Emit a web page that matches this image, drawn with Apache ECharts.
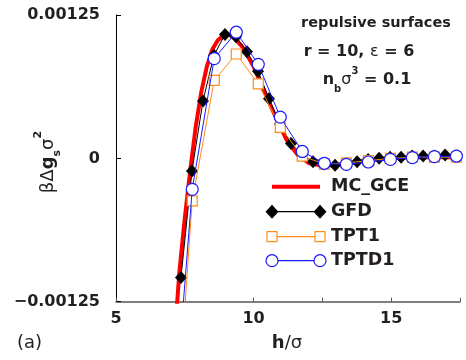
<!DOCTYPE html>
<html><head><meta charset="utf-8">
<script src="https://cdn.jsdelivr.net/npm/echarts@6/dist/echarts.min.js"></script>
<style>html,body{margin:0;padding:0;background:#fff}#c{width:466px;height:360px}</style>
</head><body><div id="c"></div>
<script>
// ---- data ----
const xGFD = [7.36, 7.76, 8.16, 8.56, 8.96, 9.36, 9.76, 10.16, 10.56, 10.96, 11.36, 11.76, 12.16, 12.56, 12.96, 13.36, 13.76, 14.16, 14.56, 14.96, 15.36, 15.76, 16.16, 16.56, 16.96, 17.36];
const yGFD = [-0.00104, -0.00011, 0.00050, 0.00090, 0.00108, 0.00106, 0.00093, 0.00076, 0.00052, 0.00030, 0.00013, 0.00003, -0.00003, -0.00005, -0.00006, -0.00005, -0.00003, -0.00001, 0.0, 0.00001, 0.00001, 0.00002, 0.00002, 0.00002, 0.00003, 0.00002];
const xTPT = [6.97, 7.77, 8.57, 9.37, 10.17, 10.97, 11.77, 12.57, 13.37, 14.17, 14.97, 15.77, 16.57, 17.37];
const yTPT1 = [-0.00313, -0.00037, 0.00068, 0.00091, 0.00065, 0.00027, 0.00002, -0.00005, -0.00004, -0.00002, 0.0, 0.00001, 0.00001, 0.00001];
const yTPTD1 = [-0.00272, -0.00027, 0.00087, 0.00110, 0.00082, 0.00036, 0.00006, -0.000043, -0.000052, -0.000032, -0.000009, 0.000006, 0.000015, 0.00002];
const xMC = [7.15, 7.3, 7.5, 7.7, 7.9, 8.1, 8.3, 8.5, 8.7, 8.9, 9.1, 9.3, 9.6, 10.0, 10.4, 10.8, 11.2, 11.6, 12.0, 12.4, 12.8, 13.2, 13.6, 14.0, 14.5, 15.0, 16.0, 17.4];
const yMC = [-0.00150, -0.00100, -0.00052, -0.00010, 0.00028, 0.00058, 0.00080, 0.00095, 0.00103, 0.00107, 0.00108, 0.00105, 0.00097, 0.00080, 0.00058, 0.00036, 0.00016, 0.00003, -0.00004, -0.00006, -0.00006, -0.00005, -0.00004, -0.00002, -0.00001, 0.0, 0.00001, 0.00001];
const yTickLabels = ['\u22120.00125', '0', '0.00125'];
const xTickLabels = {5: '5', 10: '10', 15: '15'};
const legendNames = ['MC_GCE', 'GFD', 'TPT1', 'TPTD1'];

const pairs = (xs, ys) => xs.map((x, i) => [x, ys[i]]);
const FONT = 'DejaVu Sans';
const TXT = '#231f20';
const RED = '#ff0000', ORANGE = '#ff8c1a', BLUE = '#1a1aff', BLACK = '#000000';

const chart = echarts.init(document.getElementById('c'), null, {renderer: 'canvas'});

// legend graphics
const legendRows = [186.7, 211.7, 236.7, 260.7];
const lx0 = 272, lx1 = 320, ltx = 331;
const g = [];
function diamond(cx, cy, w, h) {
  return {type: 'polygon', shape: {points: [[cx, cy - h / 2], [cx + w / 2, cy], [cx, cy + h / 2], [cx - w / 2, cy]]}, style: {fill: BLACK}, z: 100};
}
g.push({type: 'line', shape: {x1: lx0, y1: legendRows[0], x2: lx1, y2: legendRows[0]}, style: {stroke: RED, lineWidth: 4}, z: 100});
g.push({type: 'line', shape: {x1: lx0, y1: legendRows[1], x2: lx1, y2: legendRows[1]}, style: {stroke: BLACK, lineWidth: 1.2}, z: 100});
g.push(diamond(lx0, legendRows[1], 13, 14));
g.push(diamond(lx1, legendRows[1], 13, 14));
g.push({type: 'line', shape: {x1: lx0, y1: legendRows[2], x2: lx1, y2: legendRows[2]}, style: {stroke: ORANGE, lineWidth: 1.2}, z: 100});
[lx0, lx1].forEach(x => g.push({type: 'rect', shape: {x: x - 5, y: legendRows[2] - 5, width: 10, height: 10}, style: {fill: '#fff', stroke: ORANGE, lineWidth: 1.2}, z: 101}));
g.push({type: 'line', shape: {x1: lx0, y1: legendRows[3], x2: lx1, y2: legendRows[3]}, style: {stroke: BLUE, lineWidth: 1.2}, z: 100});
[lx0, lx1].forEach(x => g.push({type: 'circle', shape: {cx: x, cy: legendRows[3], r: 6}, style: {fill: '#fff', stroke: BLUE, lineWidth: 1.2}, z: 101}));
legendNames.forEach((n, i) => g.push({type: 'text', x: ltx, y: legendRows[i], style: {text: n, font: 'bold 17.5px "' + FONT + '"', fill: TXT, verticalAlign: 'middle', align: 'left'}, z: 100}));

// annotations
g.push({type: 'text', x: 376, y: 23, style: {text: 'repulsive surfaces', font: 'bold 14.5px "' + FONT + '"', fill: TXT, align: 'center', verticalAlign: 'middle'}, z: 100});
g.push({type: 'text', x: 359, y: 52, style: {text: '{b|r = 10, }{n|\u03b5}{b| = 6}', align: 'center', verticalAlign: 'middle',
  rich: {b: {font: 'bold 16px "' + FONT + '"', fill: TXT}, n: {font: '16px "' + FONT + '"', fill: TXT}}}, z: 100});
g.push({type: 'text', x: 367, y: 80, style: {text: '{b|n}{s|b}{n|\u03c3}{p|3}{b| = 0.1}', align: 'center', verticalAlign: 'middle',
  rich: {b: {font: 'bold 16px "' + FONT + '"', fill: TXT, lineHeight: 28, verticalAlign: 'middle'},
         s: {font: 'bold 10px "' + FONT + '"', fill: TXT, lineHeight: 10, verticalAlign: 'bottom'},
         n: {font: '16px "' + FONT + '"', fill: TXT, lineHeight: 28, verticalAlign: 'middle'},
         p: {font: 'bold 10px "' + FONT + '"', fill: TXT, lineHeight: 10, verticalAlign: 'top'}}}, z: 100});
// y axis name
g.push({type: 'text', x: 48, y: 162, rotation: Math.PI / 2, style: {text: '{n|\u03b2\u0394}{b|g}{s|s}{n|\u03c3}{p|2}', align: 'center', verticalAlign: 'middle',
  rich: {n: {font: '18px "' + FONT + '"', fill: TXT, lineHeight: 30, verticalAlign: 'middle'},
         b: {font: 'bold 18px "' + FONT + '"', fill: TXT, lineHeight: 30, verticalAlign: 'middle'},
         s: {font: 'bold 11px "' + FONT + '"', fill: TXT, lineHeight: 11, verticalAlign: 'bottom'},
         p: {font: 'bold 11px "' + FONT + '"', fill: TXT, lineHeight: 11, verticalAlign: 'top'}}}, z: 100});
// x axis name
g.push({type: 'text', x: 287, y: 343, style: {text: '{b|h}{n|/\u03c3}', align: 'center', verticalAlign: 'middle',
  rich: {b: {font: 'bold 18px "' + FONT + '"', fill: TXT}, n: {font: '18px "' + FONT + '"', fill: TXT}}}, z: 100});
g.push({type: 'text', x: 17, y: 343, style: {text: '(a)', font: '18px "' + FONT + '"', fill: TXT, align: 'left', verticalAlign: 'middle'}, z: 100});

chart.setOption({
  animation: false,
  backgroundColor: '#fff',
  grid: {left: 116, right: 6, top: 15, bottom: 58.3},
  xAxis: {
    type: 'value', min: 5, max: 17.5, interval: 2.5,
    axisLine: {onZero: false, lineStyle: {color: '#555', width: 1.5}},
    axisTick: {inside: true, length: 4, lineStyle: {color: '#555'}},
    splitLine: {show: false},
    axisLabel: {margin: 9, color: TXT, fontFamily: FONT, fontWeight: 'bold', fontSize: 16, showMaxLabel: true,
      formatter: v => xTickLabels[Math.round(v * 10) / 10] || ''}
  },
  yAxis: {
    type: 'value', min: -0.00125, max: 0.00125, interval: 0.00125,
    axisLine: {show: true, onZero: false, lineStyle: {color: '#000', width: 1}},
    axisTick: {show: true, inside: true, length: 5, lineStyle: {color: '#000'}},
    splitLine: {show: false},
    axisLabel: {margin: 16, color: TXT, fontFamily: FONT, fontWeight: 'bold', fontSize: 16,
      formatter: (v, i) => yTickLabels[i]}
  },
  series: [
    {name: 'MC_GCE', type: 'line', data: pairs(xMC, yMC), smooth: false, showSymbol: false, symbol: 'none',
      lineStyle: {color: RED, width: 4}, z: 2},
    {name: 'GFD', type: 'line', data: pairs(xGFD, yGFD), symbol: 'diamond', symbolSize: [12, 13],
      itemStyle: {color: BLACK}, lineStyle: {color: BLACK, width: 1}, z: 3},
    {name: 'TPT1', type: 'line', data: pairs(xTPT, yTPT1), symbol: 'rect', symbolSize: 10,
      itemStyle: {color: '#fff', borderColor: ORANGE, borderWidth: 1.2}, lineStyle: {color: ORANGE, width: 1}, z: 4},
    {name: 'TPTD1', type: 'line', data: pairs(xTPT, yTPTD1), symbol: 'circle', symbolSize: 12,
      itemStyle: {color: '#fff', borderColor: BLUE, borderWidth: 1.2}, lineStyle: {color: BLUE, width: 1}, z: 5}
  ],
  graphic: g
});
</script></body></html>
